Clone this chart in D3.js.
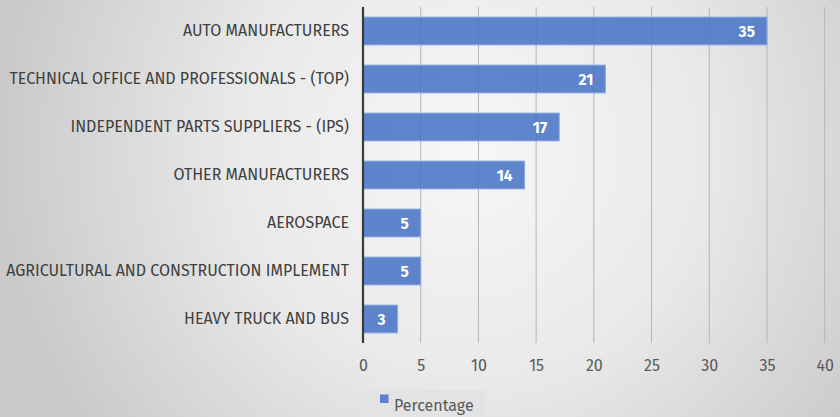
<!DOCTYPE html>
<html><head><meta charset="utf-8">
<script src="https://cdn.jsdelivr.net/npm/d3@7"></script>
<style>body{margin:0;overflow:hidden}svg{display:block}</style>
</head><body>
<script>
const categories = ["AUTO MANUFACTURERS","TECHNICAL OFFICE AND PROFESSIONALS - (TOP)","INDEPENDENT PARTS SUPPLIERS - (IPS)","OTHER MANUFACTURERS","AEROSPACE","AGRICULTURAL AND CONSTRUCTION IMPLEMENT","HEAVY TRUCK AND BUS"];
const values = [35,21,17,14,5,5,3];
const ticks = [0,5,10,15,20,25,30,35,40];
const seriesName = "Percentage";

const W=840,H=417;
const svg=d3.select("body").append("svg").attr("width",W).attr("height",H);
const defs=svg.append("defs");
const rg=defs.append("radialGradient").attr("id","bg").attr("gradientUnits","userSpaceOnUse")
  .attr("cx",470).attr("cy",150).attr("r",470);
rg.append("stop").attr("offset","0%").attr("stop-color","#f7f7f7");
rg.append("stop").attr("offset","50%").attr("stop-color","#e9e9e9");
rg.append("stop").attr("offset","100%").attr("stop-color","#cacaca");
svg.append("rect").attr("width",W).attr("height",H).attr("fill","url(#bg)");

const font="'Fira Sans','Noto Sans','Open Sans',sans-serif";
const x=d3.scaleLinear().domain([0,40]).range([363,824.7]);
const y=d3.scaleBand().domain(categories).range([7,343]).paddingInner(0.42).paddingOuter(0.21);

// gridlines
svg.append("g").selectAll("line").data(ticks.slice(1)).join("line")
  .attr("x1",d=>x(d)).attr("x2",d=>x(d)).attr("y1",7).attr("y2",343)
  .attr("stroke","#b5b5b5").attr("stroke-width",1);

// bars
svg.append("g").selectAll("rect").data(values).join("rect")
  .attr("x",x(0)).attr("y",(d,i)=>y(categories[i]))
  .attr("width",d=>x(d)-x(0)).attr("height",y.bandwidth())
  .attr("fill","#4472c4").attr("fill-opacity",0.85)
  .attr("stroke","#8eaadb").attr("stroke-width",1);

// value labels
svg.append("g").selectAll("text").data(values).join("text")
  .attr("x",d=>x(d)-12).attr("y",(d,i)=>y(categories[i])+y.bandwidth()/2)
  .attr("dy","0.36em").attr("text-anchor","end")
  .attr("fill","#ffffff").attr("font-weight","bold")
  .attr("font-family",font).attr("font-size",15.5).text(d=>d);

// category axis
const ya=svg.append("g").attr("transform",`translate(${x(0)},0)`).call(d3.axisLeft(y).tickSize(0).tickPadding(14));
ya.select(".domain").remove();
ya.selectAll("text").attr("font-family",font).attr("font-size",16).attr("fill","#404040");
svg.append("line").attr("x1",x(0)).attr("x2",x(0)).attr("y1",7).attr("y2",343).attr("stroke","#3a3a3a").attr("stroke-width",2.2);

// value axis
const xa=svg.append("g").attr("transform","translate(0,343)").call(d3.axisBottom(x).tickValues(ticks).tickSize(0).tickPadding(17));
xa.select(".domain").remove();
xa.selectAll("text").attr("font-family",font).attr("font-size",16).attr("fill","#595959");

// legend
const lg=svg.append("g");
lg.append("rect").attr("x",363).attr("y",390).attr("width",122).attr("height",27).attr("fill","#e3e3e3");
lg.append("rect").attr("x",380).attr("y",394.5).attr("width",8.5).attr("height",8.5).attr("fill","#4472c4").attr("fill-opacity",0.85);
lg.append("text").attr("x",394).attr("y",405).attr("dy","0.36em").attr("font-family",font).attr("font-size",16).attr("fill","#595959").text(seriesName);
</script>
</body></html>
